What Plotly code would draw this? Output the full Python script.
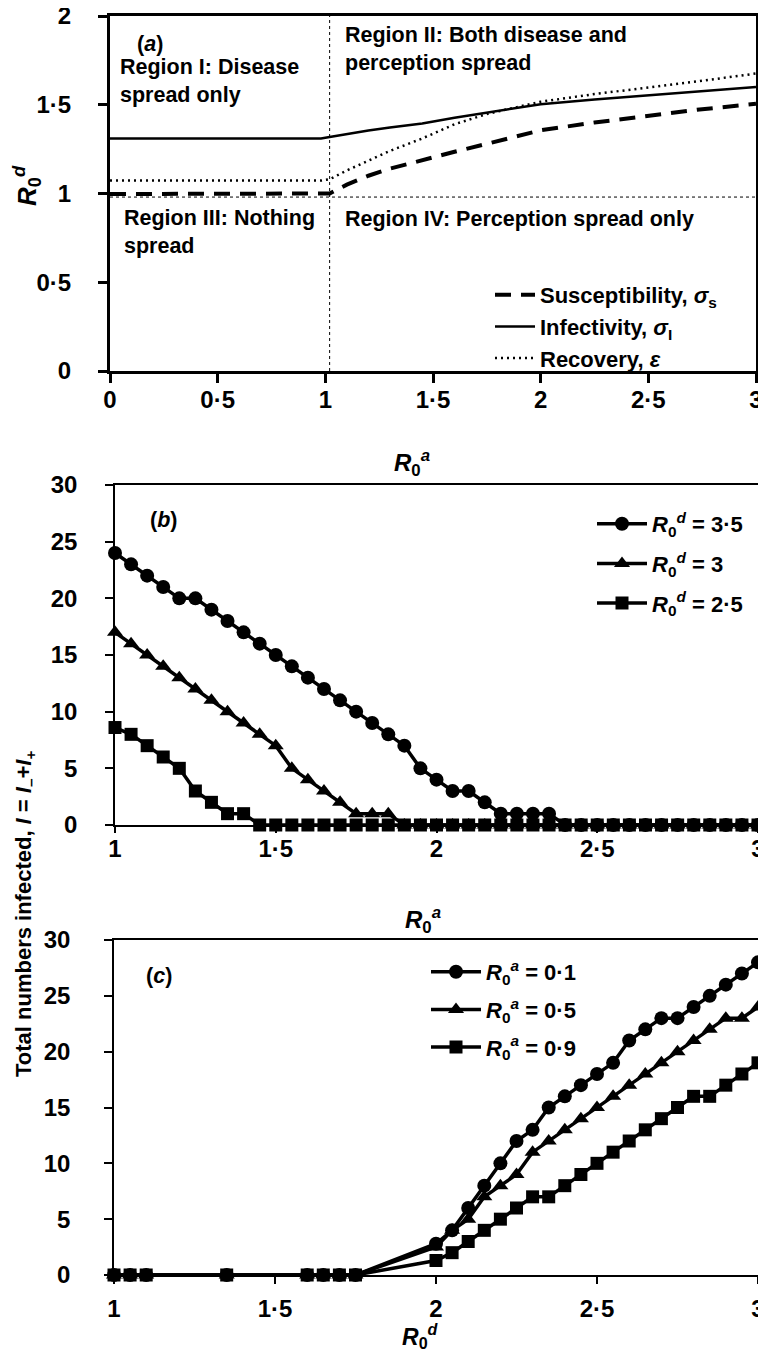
import plotly.graph_objects as go

# page is rendered with an 8px body margin; the figure is sized so the page does not scroll
OFF = 8
FW, FH = 766 - OFF, 1362 - 2 * OFF
FONT = "Liberation Sans, Arial, Helvetica, sans-serif"

# ---------------- Panel (a) data ----------------
a_x = [0, 0.5, 0.98, 1.02, 1.1, 1.2, 1.3, 1.45, 1.6, 1.75, 2.0, 2.25, 2.5, 2.75, 3.0]
a_susceptibility = [0.997, 0.997, 0.997, 1.0, 1.05, 1.10, 1.14, 1.19, 1.235, 1.28, 1.356, 1.40, 1.44, 1.475, 1.505]
a_infectivity = [1.31, 1.31, 1.31, 1.318, 1.335, 1.355, 1.372, 1.395, 1.427, 1.455, 1.503, 1.53, 1.553, 1.577, 1.60]
a_recovery = [1.073, 1.073, 1.073, 1.08, 1.13, 1.185, 1.24, 1.31, 1.39, 1.448, 1.517, 1.56, 1.597, 1.635, 1.676]
a_threshold_x = 1.02
a_threshold_y = 0.98
a_xticks = [0, 0.5, 1, 1.5, 2, 2.5, 3]
a_xticktext = ["0", "0·5", "1", "1·5", "2", "2·5", "3"]
a_yticks = [0, 0.5, 1, 1.5, 2]
a_yticktext = ["0", "0·5", "1", "1·5", "2"]

# ---------------- Panel (b) data ----------------
b_x = [1.00, 1.05, 1.10, 1.15, 1.20, 1.25, 1.30, 1.35, 1.40, 1.45, 1.50, 1.55, 1.60, 1.65,
       1.70, 1.75, 1.80, 1.85, 1.90, 1.95, 2.00, 2.05, 2.10, 2.15, 2.20, 2.25, 2.30, 2.35,
       2.40, 2.45, 2.50, 2.55, 2.60, 2.65, 2.70, 2.75, 2.80, 2.85, 2.90, 2.95, 3.00]
b_rd35 = [24, 23, 22, 21, 20, 20, 19, 18, 17, 16, 15, 14, 13, 12,
          11, 10, 9, 8, 7, 5, 4, 3, 3, 2, 1, 1, 1, 1,
          0, 0, 0, 0, 0, 0, 0, 0, 0, 0, 0, 0, 0]
b_rd30 = [17, 16, 15, 14, 13, 12, 11, 10, 9, 8, 7, 5, 4, 3,
          2, 1, 1, 1, 0, 0, 0, 0, 0, 0, 0, 0, 0, 0,
          0, 0, 0, 0, 0, 0, 0, 0, 0, 0, 0, 0, 0]
b_rd25 = [8.6, 8, 7, 6, 5, 3, 2, 1, 1, 0, 0, 0, 0, 0,
          0, 0, 0, 0, 0, 0, 0, 0, 0, 0, 0, 0, 0, 0,
          0, 0, 0, 0, 0, 0, 0, 0, 0, 0, 0, 0, 0]

# ---------------- Panel (c) data ----------------
c_x = [1.00, 1.05, 1.10, 1.35, 1.60, 1.65, 1.70, 1.75,
       2.00, 2.05, 2.10, 2.15, 2.20, 2.25, 2.30, 2.35, 2.40, 2.45, 2.50,
       2.55, 2.60, 2.65, 2.70, 2.75, 2.80, 2.85, 2.90, 2.95, 3.00]
c_ra01 = [0, 0, 0, 0, 0, 0, 0, 0,
          2.8, 4, 6, 8, 10, 12, 13, 15, 16, 17, 18, 19, 21, 22, 23, 23, 24, 25, 26, 27, 28]
c_ra05 = [0, 0, 0, 0, 0, 0, 0, 0,
          2.5, 4, 5, 7, 8, 9, 11, 12, 13, 14, 15, 16, 17, 18, 19, 20, 21, 22, 23, 23, 24]
c_ra09 = [0, 0, 0, 0, 0, 0, 0, 0,
          1.3, 2, 3, 4, 5, 6, 7, 7, 8, 9, 10, 11, 12, 13, 14, 15, 16, 16, 17, 18, 19]

bc_xticks = [1, 1.5, 2, 2.5, 3]
bc_xticktext = ["1", "1·5", "2", "2·5", "3"]
bc_yticks = [0, 5, 10, 15, 20, 25, 30]

fig = go.Figure()

# Panel (a) curves
fig.add_trace(go.Scatter(x=a_x, y=a_susceptibility, mode="lines", xaxis="x", yaxis="y",
                         name="Susceptibility, <i>σ</i><sub>s</sub>", legend="legend",
                         line=dict(color="black", width=4, dash="16px,10px")))
fig.add_trace(go.Scatter(x=a_x, y=a_infectivity, mode="lines", xaxis="x", yaxis="y",
                         name="Infectivity, <i>σ</i><sub>I</sub>", legend="legend",
                         line=dict(color="black", width=2.5)))
fig.add_trace(go.Scatter(x=a_x, y=a_recovery, mode="lines", xaxis="x", yaxis="y",
                         name="Recovery, <i>ε</i>", legend="legend",
                         line=dict(color="black", width=2.5, dash="2px,4px")))

Rd = "<i>R</i><sub>0</sub><sup><i>d</i></sup>"
Ra = "<i>R</i><sub>0</sub><sup><i>a</i></sup>"

# Panel (b)
for ys, sym, lab, sz in [(b_rd35, "circle", "3·5", 14), (b_rd30, "triangle-up", "3", 14),
                         (b_rd25, "square", "2·5", 13)]:
    fig.add_trace(go.Scatter(x=b_x, y=ys, mode="lines+markers", xaxis="x2", yaxis="y2",
                             name=f"{Rd} = {lab}", legend="legend2", legendgroup="b" + lab,
                             cliponaxis=False,
                             line=dict(color="black", width=3.5),
                             marker=dict(symbol=sym, size=sz, color="black")))

# Panel (c)
for ys, sym, lab, sz in [(c_ra01, "circle", "0·1", 14), (c_ra05, "triangle-up", "0·5", 14),
                         (c_ra09, "square", "0·9", 13)]:
    fig.add_trace(go.Scatter(x=c_x, y=ys, mode="lines+markers", xaxis="x3", yaxis="y3",
                             name=f"{Ra} = {lab}", legend="legend3", legendgroup="c" + lab,
                             cliponaxis=False,
                             line=dict(color="black", width=3.5),
                             marker=dict(symbol=sym, size=sz, color="black")))


def px(p):
    return (p - OFF) / FW


def py(p):
    return 1 - (p - OFF) / FH


tickfont = dict(family=FONT, size=24, color="black", weight="bold")

common_ax = dict(showgrid=False, zeroline=False, ticks="outside", tickcolor="black",
                 linecolor="black", tickfont=tickfont, automargin=False, fixedrange=True,
                 ticklabeloverflow="allow")

legfont = dict(family=FONT, size=22, color="black", weight="bold")

fig.update_layout(
    width=FW, height=FH,
    margin=dict(l=0, r=0, t=0, b=0),
    paper_bgcolor="white", plot_bgcolor="white",
    font=dict(family=FONT, color="black"),
    xaxis=dict(domain=[px(110), px(756)], range=[0, 3], anchor="y",
               tickvals=a_xticks, ticktext=a_xticktext, linewidth=3, mirror=True,
               ticklen=9, tickwidth=3, ticklabelstandoff=-4, **common_ax),
    yaxis=dict(domain=[py(371), py(16)], range=[0, 2], anchor="x",
               tickvals=a_yticks, ticktext=a_yticktext, linewidth=3, mirror=True,
               ticklen=9, tickwidth=3, ticklabelstandoff=22, **common_ax),
    xaxis2=dict(domain=[px(115), px(758)], range=[1, 3], anchor="y2",
                tickvals=bc_xticks, ticktext=bc_xticktext, linewidth=2, mirror=True,
                ticklen=6, tickwidth=1.5, ticklabelstandoff=-5, **common_ax),
    yaxis2=dict(domain=[py(825), py(485)], range=[0, 30], anchor="x2",
                tickvals=bc_yticks, linewidth=1.5, mirror=True,
                ticklen=8, tickwidth=1.5, ticklabelstandoff=23, **common_ax),
    xaxis3=dict(domain=[px(114), px(758)], range=[1, 3], anchor="y3",
                tickvals=bc_xticks, ticktext=bc_xticktext, linewidth=2, mirror=True,
                ticklen=7, tickwidth=1.5, ticklabelstandoff=4, **common_ax),
    yaxis3=dict(domain=[py(1275), py(940)], range=[0, 30], anchor="x3",
                tickvals=bc_yticks, linewidth=1.5, mirror=True,
                ticklen=8, tickwidth=1.5, ticklabelstandoff=29, **common_ax),
    legend=dict(x=px(490), y=py(274), xanchor="left", yanchor="top",
                bgcolor="rgba(0,0,0,0)", itemwidth=40, tracegroupgap=0,
                font=legfont),
    legend2=dict(x=px(592), y=py(503), xanchor="left", yanchor="top",
                 bgcolor="rgba(0,0,0,0)", itemwidth=50, tracegroupgap=8,
                 traceorder="grouped", font=legfont),
    legend3=dict(x=px(426), y=py(951), xanchor="left", yanchor="top",
                 bgcolor="rgba(0,0,0,0)", itemwidth=50, tracegroupgap=6,
                 traceorder="grouped", font=legfont),
    showlegend=True,
)

# threshold lines in panel (a)
fig.add_shape(type="line", xref="x", yref="y", x0=a_threshold_x, x1=a_threshold_x, y0=0, y1=2,
              line=dict(color="black", width=1, dash="dot"), layer="below")
fig.add_shape(type="line", xref="x", yref="y", x0=0, x1=3, y0=a_threshold_y, y1=a_threshold_y,
              line=dict(color="black", width=1, dash="dot"), layer="below")

ann_font = dict(family=FONT, size=21.5, color="black", weight="bold")


def ann(text, x, y, xref="x", yref="y", xanchor="left", yanchor="middle", size=21.5, angle=0):
    f = dict(ann_font)
    f["size"] = size
    fig.add_annotation(text=text, x=x, y=y, xref=xref, yref=yref, xanchor=xanchor,
                       yanchor=yanchor, showarrow=False, align="left", font=f,
                       textangle=angle)


# Panel annotations (data coordinates)
ann("(<i>a</i>)", 0.186, 1.84, xanchor="center")
ann("Region I: Disease<br>spread only", 0.037, 1.635)
ann("Region III: Nothing<br>spread", 0.056, 0.784)
ann("Region II: Both disease and<br>perception spread", 1.084, 1.815)
ann("Region IV: Perception spread only", 1.084, 0.859)
ann("(<i>b</i>)", 1.15, 26.9, xref="x2", yref="y2", xanchor="center")
ann("(<i>c</i>)", 1.14, 26.8, xref="x3", yref="y3", xanchor="center")

# Axis titles (paper coordinates)
ann(Ra, px(412), py(463), xref="paper", yref="paper", xanchor="center", size=24)
ann(Ra, px(423), py(920), xref="paper", yref="paper", xanchor="center", size=24)
ann(Rd, px(420), py(1336), xref="paper", yref="paper", xanchor="center", size=23)
ann(Rd, px(27), py(186), xref="paper", yref="paper", xanchor="center", size=26, angle=-90)
ann("Total numbers infected, <i>I</i> = <i>I</i><sub>–</sub>+<i>I</i><sub>+</sub>",
    px(25), py(914), xref="paper", yref="paper", xanchor="center", size=22, angle=-90)

fig.write_html("out.html")
